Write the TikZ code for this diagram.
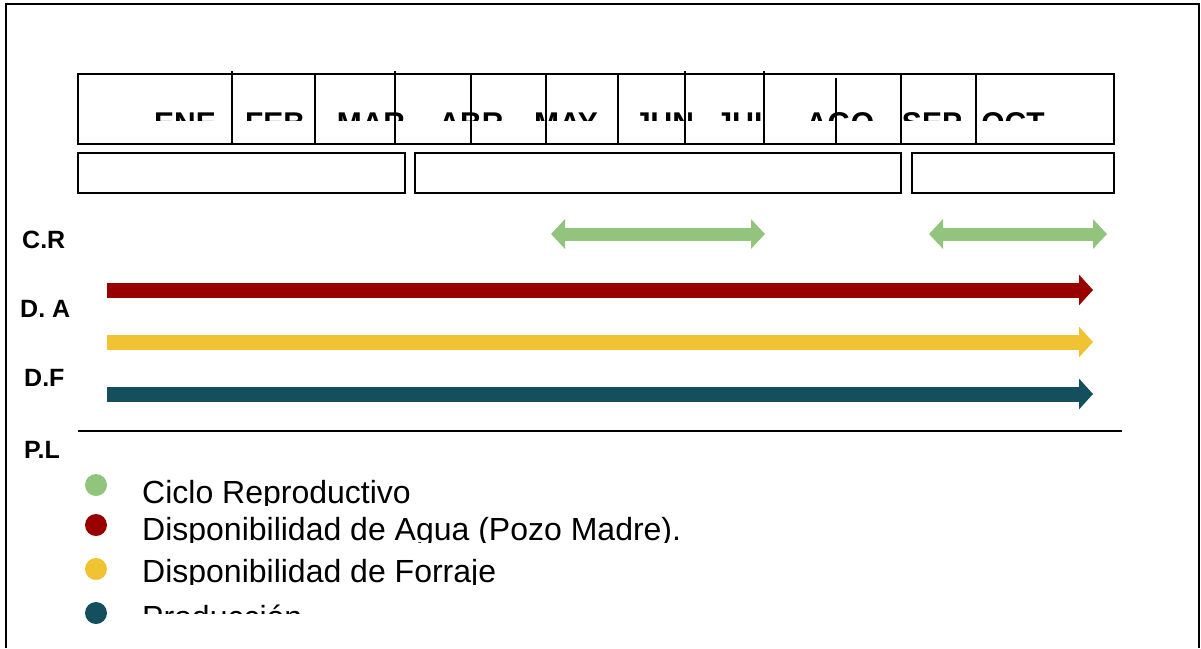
\documentclass[tikz,border=0pt]{standalone}
\usepackage{fontspec}
\setmainfont{Liberation Sans}
\usetikzlibrary{arrows.meta}

\definecolor{verdecr}{RGB}{147,196,125}
\definecolor{rojoda}{RGB}{153,0,0}
\definecolor{amarillodf}{RGB}{241,194,50}
\definecolor{azulpl}{RGB}{19,79,92}

\begin{document}
\begin{tikzpicture}[x=1pt, y=-1pt,
                caja/.style={draw=black, line width=1.5pt},
                mes/.style={anchor=base, font=\bfseries\fontsize{30}{30}\selectfont},
                etiqueta/.style={anchor=base west, inner xsep=0pt, font=\bfseries\fontsize{25}{25}\selectfont},
                doble/.style={line width=13pt, {Triangle[length=14pt,width=29pt]}-{Triangle[length=14pt,width=29pt]}},
                flecha/.style={line width=15pt, -{Triangle[length=14pt,width=30pt]}},
                punto/.style={shape=circle, minimum size=22pt, inner sep=0pt},
                leyenda/.style={anchor=base west, inner xsep=0pt, font=\fontsize{32}{32}\selectfont},
            ]
            \useasboundingbox (0,0) rectangle (1201,648);
            \draw[line width=2pt] (6,648) -- (6,4) -- (1199,4) -- (1199,648);

            \begin{scope}
                \clip (78,74) rectangle (1114,120);
                \foreach \x/\m in {185/ENE, 275/FEB, 371/MAR, 471/ABR, 566/MAY,
                                   664/JUN, 744/JUL, 840/AGO, 932/SEP, 1013/OCT}
                    \node[mes] (\m) at (\x,133) {\m};
            \end{scope}
            \draw[caja] (78,74) rectangle (1114,144);
            \foreach \x/\t in {232/71, 315/74, 395/71, 471/74, 546/74, 618/74,
                               685/71, 764/71, 836/78, 901/74, 976/74}
                \draw[caja] (\x,\t) -- (\x,143);

            \draw[caja] (78,153) rectangle (405,193);
            \draw[caja] (415,153) rectangle (901,193);
            \draw[caja] (912,153) rectangle (1114,193);

            \node[etiqueta] (cr) at (22,248) {C.R};
            \node[etiqueta] (da) at (20,317) {D. A};
            \node[etiqueta] (df) at (24,386) {D.F};
            \node[etiqueta] (pl) at (24,458) {P.L};

            \coordinate (cr1a) at (551,234);
            \coordinate (cr1b) at (765,234);
            \coordinate (cr2a) at (929,234);
            \coordinate (cr2b) at (1107,234);
            \coordinate (daa) at (107,290);
            \coordinate (dab) at (1093,290);
            \coordinate (dfa) at (107,342);
            \coordinate (dfb) at (1093,342);
            \coordinate (pla) at (107,394);
            \coordinate (plb) at (1093,394);

            \draw[doble, draw=verdecr] (cr1a) -- (cr1b);
            \draw[doble, draw=verdecr] (cr2a) -- (cr2b);
            \draw[flecha, draw=rojoda] (daa) -- (dab);
            \draw[flecha, draw=amarillodf] (dfa) -- (dfb);
            \draw[flecha, draw=azulpl] (pla) -- (plb);

            \draw[line width=1.5pt] (78,431) -- (1122,431);

            \node[punto, fill=verdecr] (p1) at (96,485) {};
            \node[punto, fill=rojoda] (p2) at (96,525) {};
            \node[punto, fill=amarillodf] (p3) at (96,569) {};
            \node[punto, fill=azulpl] (p4) at (96,613) {};

            \begin{scope}
                \clip (130,470) rectangle (800,505)
                      (130,510) rectangle (800,542)
                      (130,550) rectangle (800,584)
                      (130,598) rectangle (800,613);
                \node[leyenda] (l1) at (142,503) {Ciclo Reproductivo};
                \node[leyenda] (l2) at (142,540) {Disponibilidad de Agua (Pozo Madre).};
                \node[leyenda] (l3) at (142,582) {Disponibilidad de Forraje};
                \node[leyenda] (l4) at (142,628) {Producción};
            \end{scope}
        \end{tikzpicture}
\end{document}
